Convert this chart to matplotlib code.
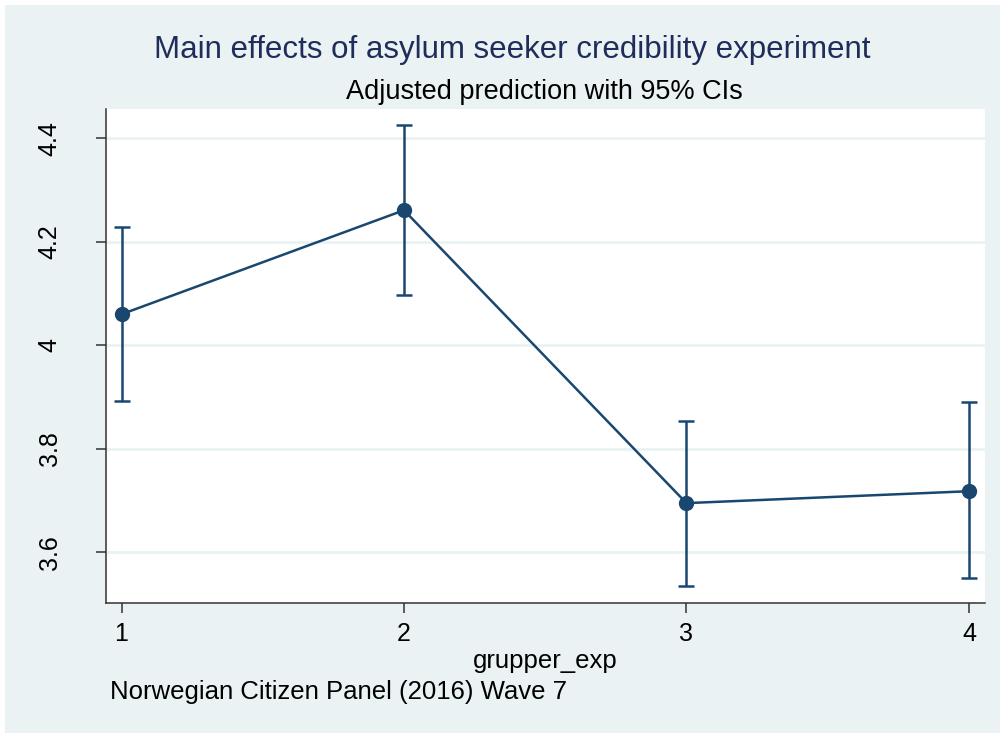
import matplotlib
matplotlib.use("Agg")
import matplotlib.pyplot as plt
from matplotlib.patches import Rectangle

plt.rcParams['font.family'] = ['Liberation Sans', 'DejaVu Sans']

# Adjusted predictions by experimental group, with 95% confidence limits
groups = [1, 2, 3, 4]
prediction = [4.060, 4.261, 3.695, 3.718]
ci_upper = [4.229, 4.426, 3.854, 3.891]
ci_lower = [3.892, 4.097, 3.535, 3.550]
y_ticks = [3.6, 3.8, 4.0, 4.2, 4.4]
y_tick_labels = ["3.6", "3.8", "4", "4.2", "4.4"]

title = "Main effects of asylum seeker credibility experiment"
subtitle = "Adjusted prediction with 95% CIs"
x_label = "grupper_exp"
note = "Norwegian Citizen Panel (2016) Wave 7"

navy = "#1a476f"
bg = "#eaf2f3"

fig = plt.figure(figsize=(10, 7.33), dpi=100, facecolor="white")
fig.patches.append(Rectangle((0.005, 0), 0.995, 1 - 5 / 733, transform=fig.transFigure,
                             facecolor=bg, edgecolor="none", zorder=-10))

ax = fig.add_axes([0.106, 1 - 603 / 733, 0.879, (603 - 109) / 733])
ax.set_facecolor("white")

yerr = [[p - lo for p, lo in zip(prediction, ci_lower)],
        [hi - p for p, hi in zip(prediction, ci_upper)]]
ax.errorbar(groups, prediction, yerr=yerr, fmt="none", ecolor=navy,
            elinewidth=1.8, capsize=5.5, capthick=1.8, zorder=3)
ax.plot(groups, prediction, color=navy, lw=1.8, marker="o", markersize=10,
        markerfacecolor=navy, markeredgecolor=navy, zorder=4)

ax.set_xlim(0.945, 4.057)
ax.set_ylim(3.502, 4.4566)
ax.set_xticks(groups)
ax.set_xticklabels([str(g) for g in groups])
ax.set_yticks(y_ticks)
ax.set_yticklabels(y_tick_labels, rotation=90, va="center")

ax.grid(axis="y", color=bg, lw=2)
ax.set_axisbelow(True)
for s in ["top", "right"]:
    ax.spines[s].set_visible(False)
for s in ["left", "bottom"]:
    ax.spines[s].set_color("#333333")
    ax.spines[s].set_linewidth(1.1)

ax.tick_params(axis="both", length=7, width=1.1, color="#333333", labelsize=18)
ax.tick_params(axis="y", pad=25)
ax.tick_params(axis="x", pad=7)

ax.set_xlabel(x_label, fontsize=18.5, labelpad=2)

fig.text(0.512, 1 - 50 / 733, title, ha="center", va="center", fontsize=22.5, color="#1f2d5a")
fig.text(0.544, 1 - 92 / 733, subtitle, ha="center", va="center", fontsize=19.5, color="black")
fig.text(0.110, 1 - 692 / 733, note, ha="left", va="center", fontsize=18.5, color="black")

fig.savefig("out.png", dpi=100, facecolor=fig.get_facecolor())
